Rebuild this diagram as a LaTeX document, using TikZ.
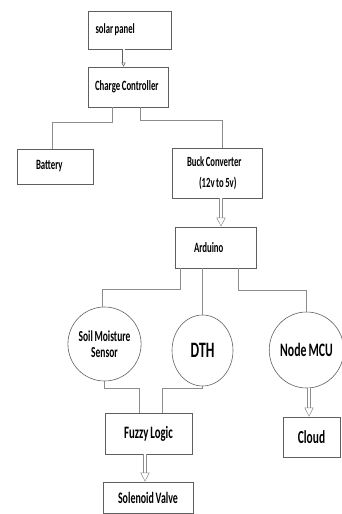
\documentclass[tikz,border=0pt]{standalone}
\usepackage{fontspec}
\newfontfamily\tallfont[FakeStretch=0.62, WordSpace=0.8]{Carlito}
\usetikzlibrary{arrows.meta,shapes.geometric}
\definecolor{linegray}{RGB}{140,140,140}
\definecolor{boxgray}{RGB}{95,95,95}
\newcommand{\fsize}[1]{\fontsize{#1}{#1}\selectfont}

\tikzset{
  box/.style={draw=boxgray, line width=0.6pt, inner ysep=0pt, minimum height=#1},
  sensor/.style={draw=boxgray, line width=0.6pt, ellipse, inner sep=0pt, align=center},
  conn/.style={draw=linegray, line width=0.6pt},
  hollow/.style={draw=linegray, line width=0.5pt, double=white, double distance=2.4pt,
    -{Triangle[open, length=#1, width=#1]}},
  hollow/.default=9pt,
  lbl/.style={font=\tallfont\bfseries\fsize{#1}},
}

\begin{document}
\begin{tikzpicture}[x=1pt, y=-1pt]
    \useasboundingbox (0,0) rectangle (341,514);
    % power side
    \node[box=38pt, lbl=14, text width=68pt, inner xsep=7.5pt, align=flush left] (solar) at (129.5,30) {solar panel};
    \node[box=40pt, lbl=14.2, text width=70pt, inner xsep=5pt, align=flush left] (charge) at (128,87) {\hspace*{2pt}Charge Controller};
    \node[box=35pt, lbl=14.2, text width=38pt, inner xsep=19pt, align=flush left] (battery) at (55,166.5) {Battery};
    \node[box=50pt, lbl=14, text width=64pt, inner xsep=13pt, align=flush left] (buck) at (217,173) {\hspace*{2pt}Buck Converter\\[7pt]\hspace*{14pt}(12v to 5v)};
    \node[box=41pt, lbl=14.2, text width=43pt, inner xsep=19pt, align=flush left] (ard) at (215.5,247.5) {Arduino};
    % sensors and outputs
    \node[sensor, lbl=15.3, minimum width=63pt, minimum height=74pt] (soil) at (104.5,344) {Soil Moisture\\[1pt]Sensor};
    \node[sensor, lbl=22, minimum width=61pt, minimum height=71pt] (dth) at (202.5,350.5) {DTH};
    \node[sensor, lbl=19, minimum width=67pt, minimum height=76pt] (mcu) at (306.5,350) {Node MCU};
    \node[box=41pt, lbl=17.4, minimum width=87pt] (fuzzy) at (148.5,433.5) {Fuzzy Logic};
    \node[box=31pt, lbl=16, minimum width=90pt] (valve) at (148,497.5) {Solenoid Valve};
    \node[box=40pt, lbl=18.4, minimum width=57pt] (cloud) at (311.5,437) {Cloud};

    % connectors
    \draw[hollow=4pt, double distance=2pt, draw=boxgray] ([xshift=-6pt]solar.south) -- ([xshift=-6pt]solar.south |- charge.north);
    \draw[conn] ([xshift=-16pt]charge.south) -- ++(0,15) -| ([xshift=-3pt]battery.north);
    \draw[conn] ([xshift=12pt]charge.south) -- ++(0,13) -| ([xshift=5pt]buck.north);
    \draw[hollow] ([xshift=4pt]buck.south) -- ([xshift=4pt]buck.south |- ard.north);
    \draw[conn] ([xshift=6pt]ard.south west) -- ++(0,21) -| ([xshift=-2.5pt]soil.north);
    \draw[conn] (dth.north |- ard.south) -- (dth.north);
    \draw[conn] ([xshift=-18pt]ard.south east) -- ++(0,22) -| (mcu.north);
    \draw[conn] (soil.south) -- ++(0,7) -| ([xshift=-9.5pt]fuzzy.north);
    \draw[conn] (dth.south) -- ++(0,2) -| ([xshift=13.5pt]fuzzy.north);
    \draw[hollow] ([xshift=-3.5pt]fuzzy.south) -- ([xshift=-3.5pt]fuzzy.south |- valve.north);
    \draw[hollow] ([xshift=2.5pt]mcu.south) -- ([xshift=2.5pt]mcu.south |- cloud.north);
\end{tikzpicture}
\end{document}
